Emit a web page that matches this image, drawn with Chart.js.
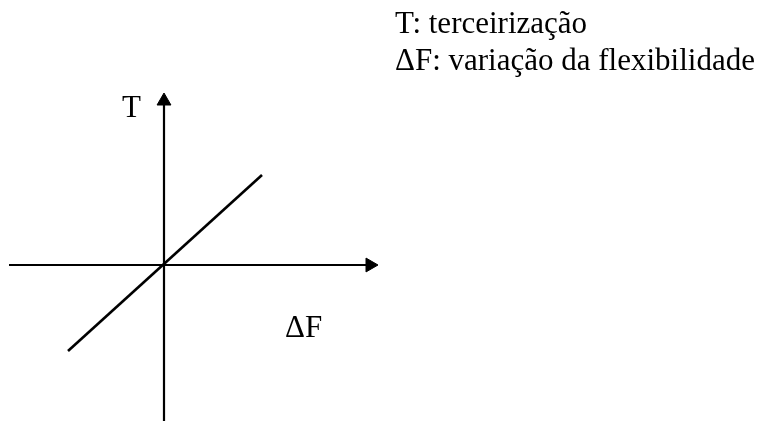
<!DOCTYPE html>
<html>
<head>
<meta charset="utf-8">
<script src="https://cdn.jsdelivr.net/npm/chart.js@4.4.1/dist/chart.umd.min.js"></script>
<style>
  html, body { margin: 0; padding: 0; background: #fff; }
  canvas { display: block; }
</style>
</head>
<body>
<canvas id="grafica" width="769" height="421"></canvas>
<script>
// linha T x ΔF (unidades arbitrarias, origem no cruzamento dos eixos)
const linha_x = [-9.6, 9.8];
const linha_y = [-8.6, 9.0];

// eixos
const eixoH_x = [-15.5, 20.8];
const eixoH_y = [0, 0];
const eixoV_x = [0, 0];
const eixoV_y = [-15.6, 16.6];

// pontas das setas
const seta_x = [20.6, 0];
const seta_y = [0, 16.4];
const seta_rot = [90, 0];

// rotulos
const rotulo_eixo_y = 'T';
const rotulo_eixo_x = 'ΔF';
const legenda = ['T: terceirização', 'ΔF: variação da flexibilidade'];

function pares(xs, ys) {
    let out = [];
    for (let i = 0; i < xs.length; i++) {
        out.push({ x: xs[i], y: ys[i] });
    }
    return out;
}

const fonte = '31px "Liberation Serif", "Times New Roman", serif';

const textos = {
    id: 'textos',
    afterDraw(chart) {
        const c = chart.ctx;
        const sx = chart.scales.x;
        const sy = chart.scales.y;
        c.save();
        c.fillStyle = '#000';
        c.font = fonte;
        c.textBaseline = 'alphabetic';
        c.textAlign = 'left';
        c.fillText(rotulo_eixo_y, sx.getPixelForValue(-4.2), sy.getPixelForValue(14.8));
        c.fillText(rotulo_eixo_x, sx.getPixelForValue(12.1), sy.getPixelForValue(-7.2));
        for (let i = 0; i < legenda.length; i++) {
            c.fillText(legenda[i], sx.getPixelForValue(23.1), sy.getPixelForValue(23.2 - i * 3.7));
        }
        c.restore();
    }
};

const ctx = document.getElementById('grafica').getContext('2d');

let ch = new Chart(ctx, {
    type: 'scatter',
    data: {
        datasets: [{
            data: pares(eixoH_x, eixoH_y),
            showLine: true,
            borderColor: '#000',
            borderWidth: 2.2,
            pointRadius: 0
        }, {
            data: pares(eixoV_x, eixoV_y),
            showLine: true,
            borderColor: '#000',
            borderWidth: 2.2,
            pointRadius: 0
        }, {
            data: pares(linha_x, linha_y),
            showLine: true,
            borderColor: '#000',
            borderWidth: 2.6,
            pointRadius: 0
        }, {
            data: pares(seta_x, seta_y),
            showLine: false,
            pointStyle: 'triangle',
            rotation: seta_rot,
            pointRadius: 8,
            backgroundColor: '#000',
            borderColor: '#000',
            borderWidth: 1
        }]
    },
    options: {
        responsive: false,
        animation: false,
        events: [],
        layout: { padding: 0, autoPadding: false },
        plugins: {
            legend: { display: false },
            tooltip: { enabled: false }
        },
        scales: {
            x: { type: 'linear', min: -16.4, max: 60.5, display: false },
            y: { type: 'linear', min: -15.6, max: 26.5, display: false }
        }
    },
    plugins: [textos]
});
</script>
</body>
</html>
